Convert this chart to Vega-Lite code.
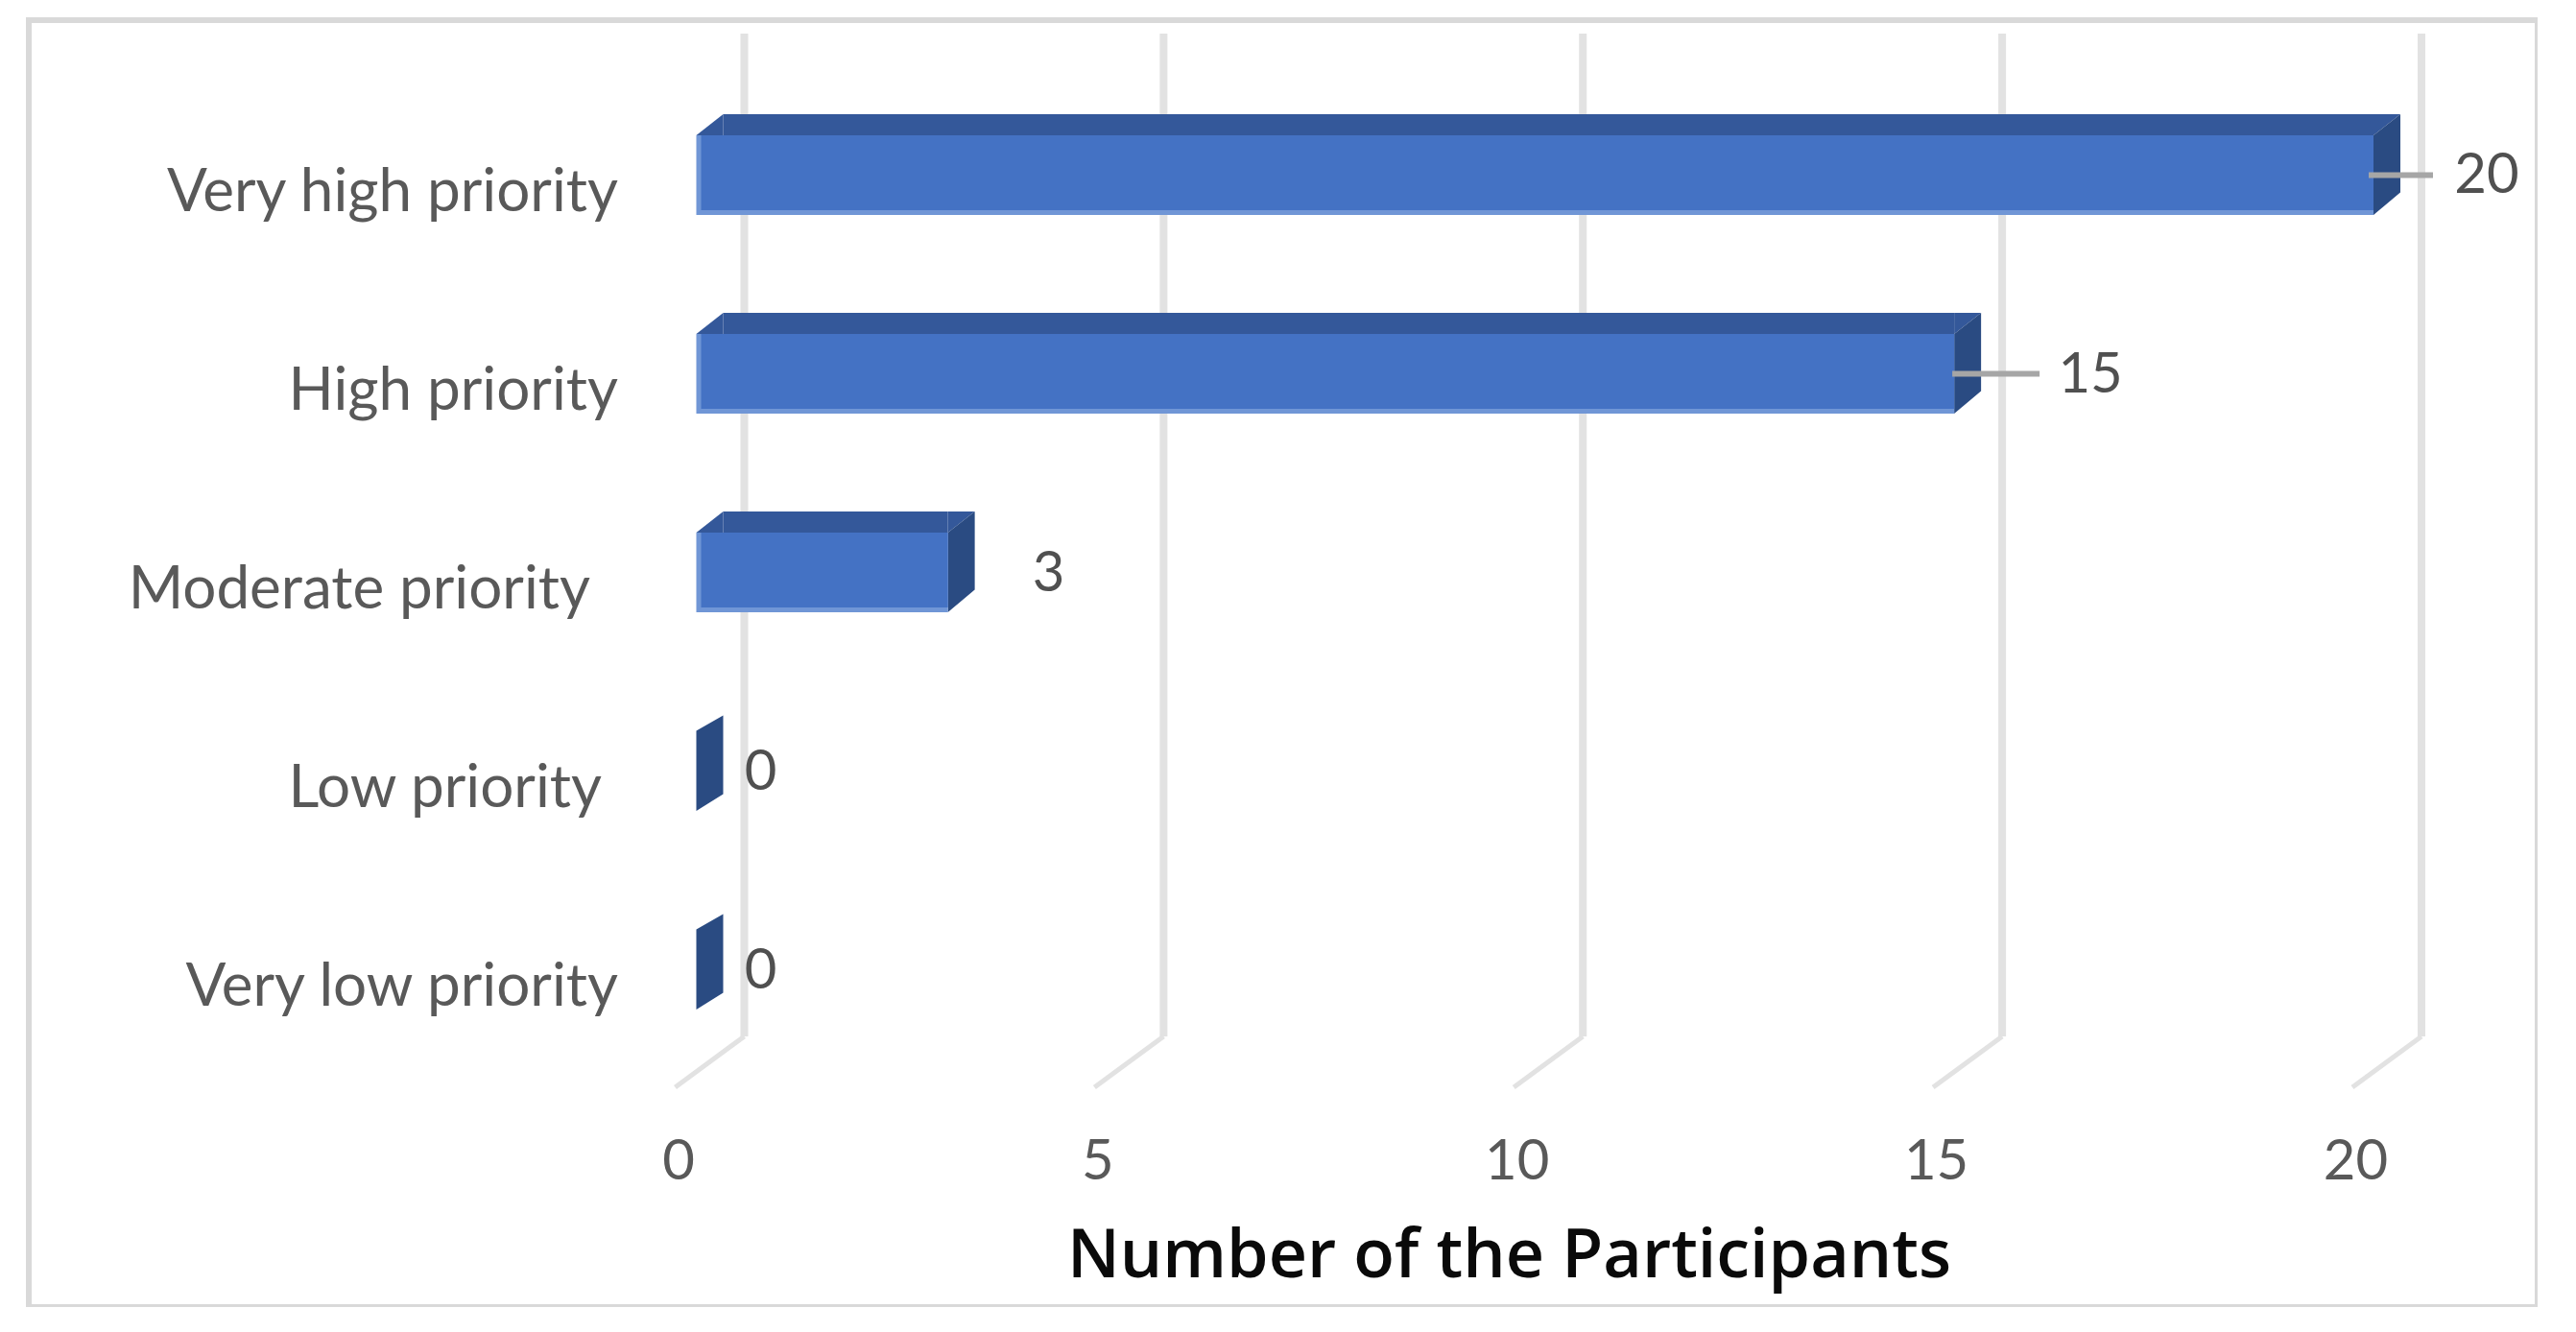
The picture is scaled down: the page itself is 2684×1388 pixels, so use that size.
{
"$schema":"https://vega.github.io/schema/vega-lite/v6.json",
"width":2614,"height":1341,
"autosize":{"type":"none"},
"padding":{"left":30,"top":21,"right":0,"bottom":0},
"background":"#ffffff",
"view":{"stroke":"#D9D9D9","strokeWidth":6,"fill":"#ffffff"},
"data":{"values":[
{"priority":"Very high priority","participants":20},
{"priority":"High priority","participants":15},
{"priority":"Moderate priority","participants":3},
{"priority":"Low priority","participants":0},
{"priority":"Very low priority","participants":0}]},
"encoding":{
"y":{"field":"priority","type":"nominal","sort":null,"title":null,
 "scale":{"domain":["Very high priority","High priority","Moderate priority","Low priority","Very low priority"],"range":[58,1093],"paddingInner":0,"paddingOuter":0},
 "axis":null},
"x":{"field":"participants","type":"quantitative",
 "scale":{"domain":[0,20],"range":[695.5,2443],"nice":false,"zero":false},
 "axis":{"orient":"bottom","offset":-180,"values":[0,5,10,15,20],"format":"d","domain":false,"ticks":false,"grid":false,"labelPadding":0,"labelOffset":-19,"labelFlush":false,"labelOverlap":false,"labelFont":"Lato","labelFontSize":58,"labelColor":"#595959","labelBaseline":"top",
 "title":"Number of the Participants","titleFont":"Open Sans","titleFontWeight":600,"titleFontSize":70,"titleColor":"#0A0A0A","titleX":1542,"titleY":127,"titleBaseline":"middle","titleAlign":"center"}}
},
"layer":[
{"data":{"values":[{"tick":0},{"tick":5},{"tick":10},{"tick":15},{"tick":20}]},
 "mark":{"type":"rule","color":"#E2E2E2","strokeWidth":8,"xOffset":50,"yOffset":-147.5,"y2Offset":69.5},
 "encoding":{"x":{"field":"tick","type":"quantitative"},"y":{"datum":"Very high priority"},"y2":{"datum":"Very low priority"}}},
{"data":{"values":[{"tick":0},{"tick":5},{"tick":10},{"tick":15},{"tick":20}]},
 "mark":{"type":"point","shape":"M50,69.5L-22,122.5","size":4,"filled":false,"stroke":"#E2E2E2","strokeWidth":5,"opacity":1},
 "encoding":{"x":{"field":"tick","type":"quantitative"},"y":{"datum":"Very low priority"}}},
{"transform":[{"filter":"datum.participants>0"}],
 "mark":{"type":"bar","size":22,"yOffset":-52.5,"color":"#34589A","x2Offset":28},
 "encoding":{"x2":{"datum":0}}},
{"transform":[{"filter":"datum.participants>0"}],
 "mark":{"type":"point","shape":"M0,-41.5L28,-63.5L28,-41.5Z","size":4,"filled":true,"color":"#34589A","opacity":1},
 "encoding":{"x":{"datum":0}}},
{"transform":[{"filter":"datum.participants>0"}],
 "mark":{"type":"point","shape":"M0,-41.5L0,-63.5L28,-63.5Z","size":4,"filled":true,"color":"#34589A","opacity":1}},
{"transform":[{"filter":"datum.participants>0"}],
 "mark":{"type":"point","shape":"M0,-41.5L28,-63.5L28,18L0,41.5Z","size":4,"filled":true,"color":"#2A4B82","opacity":1}},
{"transform":[{"filter":"datum.participants==0"}],
 "mark":{"type":"point","shape":"M0,-42L28,-58L28,24L0,41.5Z","size":4,"filled":true,"color":"#2A4B82","opacity":1}},
{"transform":[{"filter":"datum.participants>0"}],
 "mark":{"type":"bar","size":83,"color":"#7096D6"},
 "encoding":{"x2":{"datum":0}}},
{"transform":[{"filter":"datum.participants>0"}],
 "mark":{"type":"bar","size":78,"yOffset":-2.5,"color":"#4472C4","x2Offset":5},
 "encoding":{"x2":{"datum":0}}},
{"transform":[{"filter":"datum.participants==20"}],
 "mark":{"type":"rule","color":"#A6A6A6","strokeWidth":6,"xOffset":-5,"x2Offset":62},
 "encoding":{"x2":{"field":"participants"}}},
{"transform":[{"filter":"datum.participants==15"}],
 "mark":{"type":"rule","color":"#A6A6A6","strokeWidth":6,"xOffset":-2,"x2Offset":89},
 "encoding":{"x2":{"field":"participants"}}},
{"transform":[{"filter":"datum.participants==20"}],
 "mark":{"type":"text","font":"Lato","fontSize":58,"color":"#505050","dx":118,"dy":1},
 "encoding":{"text":{"field":"participants","type":"quantitative"}}},
{"transform":[{"filter":"datum.participants==15"}],
 "mark":{"type":"text","font":"Lato","fontSize":58,"color":"#505050","dx":142,"dy":2},
 "encoding":{"text":{"field":"participants","type":"quantitative"}}},
{"transform":[{"filter":"datum.participants==3"}],
 "mark":{"type":"text","font":"Lato","fontSize":58,"color":"#505050","dx":105,"dy":2},
 "encoding":{"text":{"field":"participants","type":"quantitative"}}},
{"transform":[{"filter":"datum.participants==0"}],
 "mark":{"type":"text","font":"Lato","fontSize":58,"color":"#505050","dx":67,"dy":2},
 "encoding":{"text":{"field":"participants","type":"quantitative"}}},
{"transform":[{"filter":"datum.priority=='Very high priority'||datum.priority=='High priority'||datum.priority=='Very low priority'"}],
 "mark":{"type":"text","font":"Lato","fontSize":62,"color":"#595959","align":"right","dx":-81.5,"dy":18},
 "encoding":{"x":{"datum":0},"text":{"field":"priority","type":"nominal"}}},
{"transform":[{"filter":"datum.priority=='Moderate priority'"}],
 "mark":{"type":"text","font":"Lato","fontSize":62,"color":"#595959","align":"right","dx":-110.5,"dy":18},
 "encoding":{"x":{"datum":0},"text":{"field":"priority","type":"nominal"}}},
{"transform":[{"filter":"datum.priority=='Low priority'"}],
 "mark":{"type":"text","font":"Lato","fontSize":62,"color":"#595959","align":"right","dx":-98.5,"dy":18},
 "encoding":{"x":{"datum":0},"text":{"field":"priority","type":"nominal"}}}
]
}
